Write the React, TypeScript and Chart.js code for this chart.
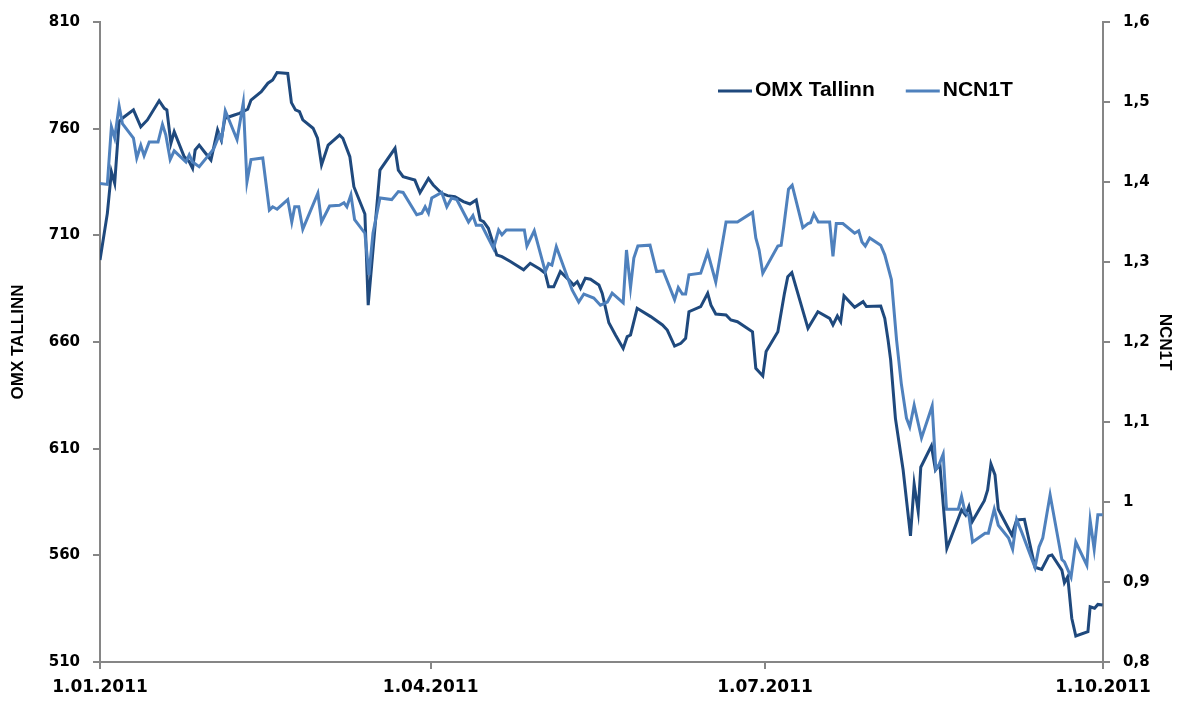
import React, { useEffect, useRef } from 'react';
import { Chart, registerables } from 'chart.js';

Chart.register(...registerables);

// X axis: days since 1 Jan 2011
const dateTickDays = [0, 90, 181, 273];
const dateTickLabels = ['1.01.2011', '1.04.2011', '1.07.2011', '1.10.2011'];
const omxTicks = [510, 560, 610, 660, 710, 760, 810];
const ncnTicks = [0.8, 0.9, 1.0, 1.1, 1.2, 1.3, 1.4, 1.5, 1.6];
const ncnTickLabels = ['0,8', '0,9', '1', '1,1', '1,2', '1,3', '1,4', '1,5', '1,6'];

const omxDays = [
  0, 2.0, 3.1, 4.0, 5.2, 6.1, 9.1, 11.1, 12.9, 16.1, 17.5, 18.2, 19.3, 20.2, 22.9, 24.3, 25.2, 25.9, 27.0, 28.4,
  30.2, 32.0, 33.0, 34.0, 36.6, 37.9, 40.2, 41.1, 43.9, 45.7, 47.0, 48.2, 51.1, 52.1, 53.2, 54.3, 55.2, 58.0, 59.2, 60.3,
  62.1, 65.2, 66.1, 68.0, 69.1, 72.1, 73.0, 76.2, 80.3, 81.2, 82.5, 85.7, 87.1, 89.4, 90.7, 93.0, 94.6, 96.6, 98.9, 100.7,
  102.4, 103.5, 104.4, 105.7, 108.0, 109.4, 111.7, 115.3, 117.1, 119.8, 121.2, 122.1, 123.5, 125.3, 127.6, 128.9, 129.9, 130.8, 132.1, 133.5,
  135.8, 136.7, 138.5, 140.3, 142.4, 143.5, 144.4, 146.2, 149.9, 153.1, 154.4, 156.4, 158.1, 159.4, 160.3, 163.5, 165.4, 166.3, 167.6, 170.4,
  171.7, 173.5, 177.6, 178.5, 180.4, 181.3, 184.5, 186.3, 187.2, 188.3, 192.7, 195.4, 198.6, 199.5, 200.7, 201.6, 202.5, 205.4, 207.7, 208.6,
  212.5, 213.6, 214.5, 215.2, 216.5, 218.6, 220.6, 221.6, 222.7, 223.4, 226.3, 227.4, 228.6, 230.5, 234.5, 235.6, 236.5, 237.4, 240.7, 241.6,
  242.5, 243.6, 244.5, 248.2, 249.5, 251.6, 254.5, 256.3, 258.2, 259.1, 261.8, 262.5, 263.4, 264.5, 265.6, 268.9, 269.5, 270.7, 271.6, 272.9,
];
const omxValues = [
  698.4, 720.3, 739.8, 734.4, 763.3, 764.9, 768.8, 760.9, 764.1, 773.1, 769.5, 768.8, 753.1, 758.6, 746.9, 744.5, 741.4, 750.0, 752.3, 749.2,
  745.3, 759.4, 754.7, 764.9, 766.4, 767.2, 769.1, 773.4, 777.3, 781.3, 782.8, 786.3, 785.9, 772.2, 768.8, 768.0, 764.1, 760.2, 755.5, 743.0,
  752.3, 757.0, 755.5, 746.9, 732.8, 720.0, 677.3, 740.6, 750.8, 740.6, 737.5, 735.9, 730.0, 736.7, 733.6, 729.7, 728.6, 728.1, 725.8, 724.7,
  726.6, 717.2, 716.4, 713.3, 700.8, 700.0, 697.7, 693.8, 696.9, 694.1, 692.2, 685.9, 685.9, 693.0, 689.1, 686.7, 688.3, 685.2, 689.9, 689.4,
  686.7, 682.8, 669.0, 663.3, 657.0, 662.5, 663.3, 675.8, 671.9, 668.0, 665.6, 658.1, 659.4, 661.7, 674.2, 676.6, 682.8, 677.3, 673.1, 672.7,
  670.3, 669.5, 664.8, 647.7, 644.1, 655.5, 664.8, 682.8, 690.6, 692.5, 666.4, 674.2, 671.1, 668.0, 672.2, 669.5, 681.6, 676.3, 678.9, 676.6,
  676.9, 671.1, 660.9, 651.6, 624.2, 600.0, 569.1, 593.4, 580.5, 601.3, 611.3, 600.0, 602.8, 563.3, 581.3, 578.9, 582.8, 575.8, 585.6, 590.6,
  602.8, 597.7, 581.6, 569.5, 576.6, 576.9, 554.4, 553.4, 559.7, 560.2, 553.1, 547.2, 550.0, 530.5, 522.2, 524.2, 535.9, 535.2, 537.0, 536.7,
];

const ncnDays = [
  0, 2.0, 3.1, 4.0, 5.2, 6.1, 9.1, 10.0, 11.1, 12.0, 13.4, 15.8, 17.0, 17.9, 19.1, 20.2, 23.4, 24.3, 25.2, 27.0,
  29.3, 30.9, 32.5, 33.1, 34.1, 37.3, 39.0, 40.0, 41.1, 44.3, 46.1, 47.0, 48.2, 51.1, 52.2, 53.0, 54.1, 55.2, 59.3, 60.3,
  62.5, 65.2, 66.4, 67.2, 68.3, 69.3, 72.1, 73.2, 74.3, 76.2, 79.4, 81.2, 82.5, 86.2, 87.6, 88.5, 89.4, 90.3, 93.0, 94.4,
  95.7, 97.1, 100.3, 101.5, 102.4, 103.9, 107.1, 108.5, 109.4, 110.6, 115.5, 116.2, 118.2, 121.2, 122.1, 123.0, 124.2, 128.5, 130.3, 131.7,
  134.4, 136.2, 138.1, 139.4, 142.4, 143.3, 144.4, 145.3, 146.4, 149.7, 151.5, 153.3, 156.4, 157.4, 158.5, 159.4, 160.3, 163.5, 165.4, 167.6,
  170.4, 173.5, 177.6, 178.5, 179.4, 180.4, 184.5, 185.4, 186.1, 187.4, 188.4, 191.3, 192.7, 193.4, 194.3, 195.5, 198.6, 199.5, 200.4, 202.2,
  205.4, 206.5, 207.4, 208.3, 209.5, 212.5, 213.6, 215.4, 216.8, 218.1, 219.5, 220.4, 221.6, 223.6, 226.5, 227.5, 228.3, 229.5, 230.4, 233.6,
  234.5, 235.4, 236.5, 237.5, 240.9, 241.8, 243.4, 244.5, 247.3, 248.4, 249.5, 250.9, 254.5, 255.6, 256.6, 258.6, 261.8, 262.5, 264.3, 265.6,
  268.6, 269.5, 270.6, 271.6, 272.9,
];
const ncnValues = [
  1.398, 1.397, 1.469, 1.455, 1.495, 1.473, 1.455, 1.430, 1.446, 1.433, 1.450, 1.450, 1.472, 1.459, 1.428, 1.439, 1.425, 1.434, 1.425, 1.419,
  1.432, 1.441, 1.459, 1.453, 1.489, 1.453, 1.499, 1.400, 1.428, 1.430, 1.365, 1.369, 1.366, 1.378, 1.350, 1.369, 1.369, 1.341, 1.386, 1.350,
  1.370, 1.371, 1.374, 1.369, 1.384, 1.353, 1.336, 1.284, 1.336, 1.380, 1.378, 1.388, 1.387, 1.359, 1.361, 1.369, 1.361, 1.380, 1.387, 1.369,
  1.380, 1.378, 1.350, 1.358, 1.346, 1.346, 1.317, 1.340, 1.334, 1.340, 1.340, 1.320, 1.339, 1.288, 1.298, 1.296, 1.319, 1.265, 1.250, 1.260,
  1.255, 1.246, 1.250, 1.261, 1.249, 1.315, 1.268, 1.305, 1.320, 1.321, 1.288, 1.289, 1.253, 1.268, 1.260, 1.260, 1.284, 1.286, 1.312, 1.275,
  1.350, 1.350, 1.362, 1.330, 1.315, 1.286, 1.320, 1.321, 1.344, 1.391, 1.396, 1.343, 1.348, 1.349, 1.360, 1.350, 1.350, 1.307, 1.348, 1.348,
  1.336, 1.339, 1.325, 1.320, 1.330, 1.321, 1.309, 1.278, 1.203, 1.148, 1.105, 1.094, 1.121, 1.080, 1.120, 1.041, 1.046, 1.060, 0.991, 0.991,
  1.007, 0.988, 0.983, 0.950, 0.961, 0.961, 0.991, 0.971, 0.955, 0.941, 0.978, 0.962, 0.918, 0.944, 0.955, 1.009, 0.928, 0.925, 0.906, 0.950,
  0.921, 0.977, 0.941, 0.984, 0.984,
];

const DARK = '#1F497D';
const LIGHT = '#4F81BD';
const AXIS_GREY = '#868686';

const insideLegend = {
  id: 'insideLegend',
  afterDraw(chart: any) {
    const ctx = chart.ctx;
    ctx.save();
    ctx.font = 'bold 21px "Liberation Sans", Arial, sans-serif';
    ctx.textBaseline = 'middle';
    ctx.textAlign = 'left';
    let x = 718;
    const y = 90;
    chart.data.datasets.forEach((ds: any) => {
      ctx.strokeStyle = ds.borderColor;
      ctx.lineWidth = 3;
      ctx.beginPath();
      ctx.moveTo(x, y + 1);
      ctx.lineTo(x + 34, y + 1);
      ctx.stroke();
      ctx.fillStyle = '#000';
      ctx.fillText(ds.label, x + 37, y);
      x += 37 + ctx.measureText(ds.label).width + 31;
    });
    ctx.restore();
  },
};

export default function App() {
  const canvasRef = useRef<HTMLCanvasElement | null>(null);

  useEffect(() => {
    const canvas = canvasRef.current;
    if (!canvas) return;
    const tickFontY = { family: '"DejaVu Sans", Verdana, sans-serif', weight: 'bold' as const, size: 15 };
    const tickFontX = { family: '"DejaVu Sans", Verdana, sans-serif', weight: 'bold' as const, size: 17 };
    const titleFont = { family: '"Liberation Sans", Arial, sans-serif', weight: 'bold' as const, size: 17 };
    const grid = {
      display: true,
      drawOnChartArea: false,
      drawTicks: true,
      tickLength: 7,
      color: AXIS_GREY,
      lineWidth: 2,
    };
    const border = { display: true, color: AXIS_GREY, width: 2 };

    const chart = new Chart(canvas, {
      type: 'line',
      data: {
        datasets: [
          {
            label: 'OMX Tallinn',
            data: omxDays.map((d, i) => ({ x: d, y: omxValues[i] })),
            borderColor: DARK,
            backgroundColor: DARK,
            borderWidth: 3,
            pointRadius: 0,
            tension: 0,
            yAxisID: 'yL',
            order: 1,
          },
          {
            label: 'NCN1T',
            data: ncnDays.map((d, i) => ({ x: d, y: ncnValues[i] })),
            borderColor: LIGHT,
            backgroundColor: LIGHT,
            borderWidth: 3,
            pointRadius: 0,
            tension: 0,
            yAxisID: 'yR',
            order: 0,
          },
        ],
      },
      options: {
        responsive: false,
        animation: false,
        layout: { padding: { top: 22, left: 0, right: 0, bottom: 0 } },
        plugins: {
          legend: { display: false },
          tooltip: { enabled: false },
        },
        scales: {
          x: {
            type: 'linear',
            min: 0,
            max: 273,
            grid,
            border,
            afterBuildTicks: (s: any) => {
              s.ticks = dateTickDays.map((v) => ({ value: v }));
            },
            afterFit: (s: any) => {
              s.height = 40;
            },
            ticks: {
              autoSkip: false,
              maxRotation: 0,
              minRotation: 0,
              padding: 8,
              color: '#000',
              font: tickFontX,
              callback: (_v: any, i: number) => dateTickLabels[i],
            },
          },
          yL: {
            type: 'linear',
            position: 'left',
            min: 510,
            max: 810,
            grid,
            border,
            afterBuildTicks: (s: any) => {
              s.ticks = omxTicks.map((v) => ({ value: v }));
            },
            afterFit: (s: any) => {
              s.width = 100;
            },
            ticks: {
              padding: 13,
              color: '#000',
              font: tickFontY,
              callback: (_v: any, i: number) => String(omxTicks[i]),
            },
            title: {
              display: true,
              text: 'OMX TALLINN',
              color: '#000',
              font: titleFont,
              padding: { top: 8, bottom: 0 },
            },
          },
          yR: {
            type: 'linear',
            position: 'right',
            min: 0.8,
            max: 1.6,
            grid,
            border,
            afterBuildTicks: (s: any) => {
              s.ticks = ncnTicks.map((v) => ({ value: v }));
            },
            afterFit: (s: any) => {
              s.width = 80;
            },
            ticks: {
              padding: 13,
              color: '#000',
              font: tickFontY,
              callback: (_v: any, i: number) => ncnTickLabels[i],
            },
            title: {
              display: true,
              text: 'NCN1T',
              color: '#000',
              font: titleFont,
              padding: { top: 8, bottom: 0 },
            },
          },
        },
      },
      plugins: [insideLegend],
    });

    return () => {
      chart.destroy();
    };
  }, []);

  return (
    <div style={{ position: 'fixed', left: 0, top: 0, width: 1183, height: 702, background: '#fff' }}>
      <canvas ref={canvasRef} width={1183} height={702} style={{ display: 'block' }} />
    </div>
  );
}
